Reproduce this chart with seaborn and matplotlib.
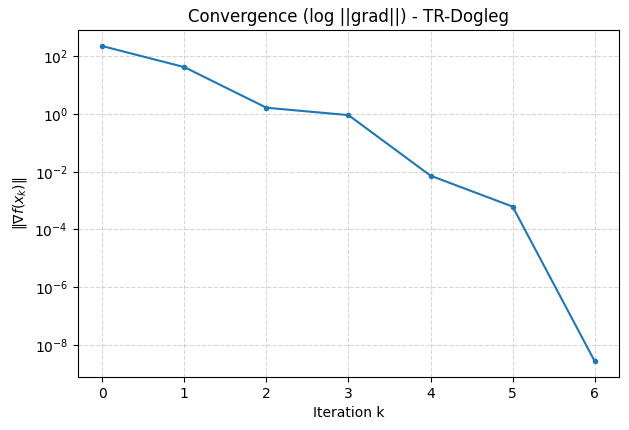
import matplotlib
matplotlib.use('Agg')
import matplotlib.pyplot as plt
import seaborn as sns
import pandas as pd

iterations = [0, 1, 2, 3, 4, 5, 6]
grad_norm = [228.0, 42.5, 1.66, 0.92, 7.3e-3, 6.2e-4, 2.7e-9]

df = pd.DataFrame({'k': iterations, 'grad': grad_norm})

fig, ax = plt.subplots(figsize=(6.29, 4.3), dpi=100)
sns.lineplot(data=df, x='k', y='grad', marker='o', markersize=4, markeredgewidth=0,
             color='#1f77b4', ax=ax)
ax.set_yscale('log')
ax.set_title('Convergence (log ||grad||) - TR-Dogleg')
ax.set_xlabel('Iteration k')
ax.set_ylabel(r'$\|\nabla f(x_k)\|$')
ax.grid(True, which='major', linestyle='--', alpha=0.5)
fig.subplots_adjust(left=0.1235, right=0.9846, top=0.9295, bottom=0.1233)
fig.savefig('out.png', dpi=100)
